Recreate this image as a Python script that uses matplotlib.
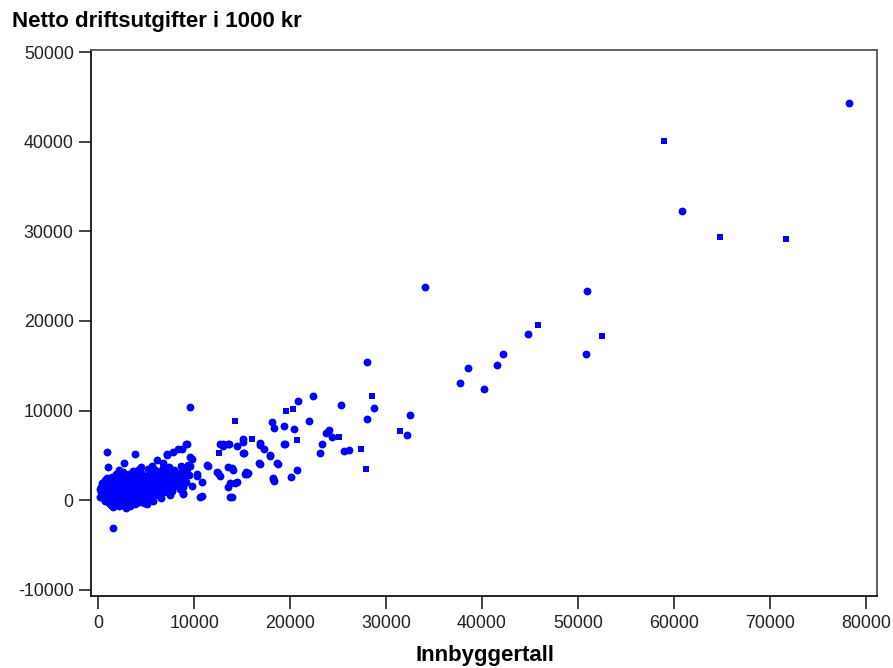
import numpy as np
import matplotlib
matplotlib.use("Agg")
import matplotlib.pyplot as plt

plt.rcParams['font.family'] = ['Liberation Sans', 'DejaVu Sans']
plt.rcParams['axes.unicode_minus'] = False

# innbyggertall / netto driftsutgifter (1000 kr)
dots_x = [78230, 60830, 34060, 50970, 44830, 42150, 41530, 50870, 38580, 37680,
          40240, 28020, 28780, 32470, 28050, 25280, 22360, 20870, 22010, 18160,
          18370, 19380, 20450, 24060, 23720, 24380, 32150, 15140, 19380, 23370,
          23130, 25630, 26110, 20730, 20070, 18710, 18190, 18330, 17920, 16880,
          17290, 16840, 15170, 13050, 13570, 15380, 15660, 13920, 13500, 14270,
          12470, 9580, 1560, 9130, 900, 3850, 2710, 7220, 8290, 6110,
          9580, 9410, 11320, 1070, 4480, 5580, 6720, 8890, 10280, 12360,
          13570, 14090, 15310, 13750, 16800, 18600, 18190, 16880, 19480, 17920,
          8890, 10630, 7500, 13920, 12710, 15140, 9230, 8710, 7840, 7150,
          9750, 13050, 13680, 14440, 15140, 11490, 9580, 5590, 7840, 10280,
          12710, 15480, 10800, 14440, 8890, 7840, 10800, 13750, 8890, 5070,
          6460]
dots_y = [44300, 32230, 23800, 23300, 18550, 16300, 15100, 16300, 14800, 13100,
          12400, 15450, 10300, 9550, 9000, 10650, 11600, 11100, 8850, 8700,
          8000, 8250, 7900, 7800, 7500, 7000, 7250, 6800, 6300, 6300,
          5300, 5450, 5550, 3400, 2600, 4050, 2500, 2100, 4950, 6100,
          5750, 4050, 5250, 6250, 6250, 3100, 3050, 3550, 1450, 1850,
          3050, 10400, -3100, 6300, 5400, 5100, 4150, 5050, 5650, 4450,
          4800, 3900, 3900, 3700, 3650, 3700, 4150, 2600, 2950, 3150,
          3700, 3350, 2950, 1850, 4100, 4100, 2400, 6400, 6300, 5050,
          800, 350, 550, 350, 6300, 5200, 6280, 5720, 5340, 5160,
          4600, 6090, 6280, 6090, 6460, 3850, 3850, 3850, 2740, 2740,
          2740, 2930, 2000, 2000, 1810, 1620, 500, 310, 690, -420,
          500]

squares_x = [58960, 64790, 71670, 45800, 52460, 28540, 20340, 19620, 25100, 31490,
             14270, 16040, 20730, 27400, 27950, 12600]
squares_y = [40100, 29400, 29200, 19500, 18300, 11600, 10200, 10000, 7000, 7700,
             8800, 6850, 6700, 5750, 3500, 5200]

# the dense cluster of small municipalities
cluster_x = [200, 300, 350, 400, 450, 500, 550, 600, 650, 700, 750, 800, 850, 900,
             950, 1000, 250, 700, 900, 600,
             1050, 1100, 1150, 1200, 1250, 1300, 1350, 1400, 1450, 1500, 1550, 1600,
             1650, 1700, 1750, 1800, 1850, 1900, 1950, 2000, 1100, 1300, 1500, 1700,
             1900, 1200, 1400, 1600, 1800, 2000,
             2050, 2100, 2150, 2200, 2250, 2300, 2350, 2400, 2450, 2500, 2550, 2600,
             2650, 2700, 2750, 2800, 2850, 2900, 2950, 3000, 2100, 2300, 2500, 2700,
             2900, 2200, 2400, 2600, 2800, 3000, 2350, 2650, 2950,
             3050, 3100, 3150, 3200, 3250, 3300, 3350, 3400, 3450, 3500, 3550, 3600,
             3650, 3700, 3750, 3800, 3850, 3900, 3950, 4000, 3100, 3300, 3500, 3700,
             3900, 3200, 3400, 3600, 3800,
             4050, 4100, 4150, 4200, 4250, 4300, 4350, 4400, 4450, 4500, 4550, 4600,
             4650, 4700, 4750, 4800, 4850, 4900, 4950, 5000, 4200, 4400, 4600, 4800,
             4300,
             5050, 5150, 5250, 5350, 5450, 5550, 5650, 5750, 5850, 5950, 5100, 5300,
             5500, 5700, 5900, 5200, 5600, 5800,
             6050, 6150, 6250, 6350, 6450, 6550, 6650, 6750, 6850, 6950, 6200, 6400,
             6600, 6800, 6100, 6900,
             7050, 7200, 7350, 7500, 7650, 7800, 7950, 7100, 7400, 7700, 7900,
             8100, 8300, 8500, 8700, 8900, 8200, 8600, 8800,
             9200, 9500, 9800, 9300]
cluster_y = [300, 900, 1500, 600, 1900, 200, 1100, 1700, 500, 1300, 2200, 800, 1600, 300,
             1000, 2000, 1200, -100, 2500, 100,
             500, 1400, -300, 2100, 800, 1700, -600, 1100, 2600, 300, 1500, -800,
             900, 2000, 0, 1300, 2900, 600, 1800, -400, 2400, 400, 2300, 1000,
             -200, 1200, -100, 1600, 700, 1100,
             2200, 300, 1500, -700, 900, 2600, 100, 1800, -500, 1200, 3100, 400,
             1600, -200, 2300, 800, 1900, -900, 1300, 500, 1000, 1400, 2000, 600,
             2700, 3300, -100, 2800, 200, 1700, 700, -600, 2400,
             1000, -300, 2100, 600, 2900, 1400, -700, 1800, 300, 2500, 1100, -100,
             3200, 700, 1600, 2200, -400, 1200, 400, 2600, 1600, 800, 0, 2700,
             1900, 2400, 900, 1400, 500,
             1500, 200, 2900, 900, 1900, -200, 2400, 600, 1300, 3000, 100, 1800,
             700, 2300, 1100, -300, 2700, 1500, 400, 2000, 3400, 1000, 2600, 800,
             1600,
             1200, 2500, 300, 1700, 3100, 900, 2200, -100, 1500, 2800, 600, 2000,
             1300, 400, 3300, 3500, 2600, 1000,
             1900, 700, 3000, 1300, 2300, 200, 1600, 3600, 900, 2100, 2600, 400,
             3200, 1700, 1100, 2800,
             1400, 3000, 2000, 800, 2600, 1500, 3300, 2300, 3700, 1000, 2100,
             1800, 3000, 1200, 2200, 3300, 2600, 3800, 1500,
             2000, 2800, 1600, 3500]

blue = '#0000FF'

fig = plt.figure(figsize=(8.93, 6.68), dpi=100)
ax = fig.add_axes([0.102, 0.108, 0.880, 0.817])

ax.scatter(cluster_x, cluster_y, s=32, color=blue, marker='o', linewidths=0)
ax.scatter(dots_x, dots_y, s=32, color=blue, marker='o', linewidths=0)
ax.scatter(squares_x, squares_y, s=25, color=blue, marker='s', linewidths=0)

ax.set_xlim(-730, 81150)
ax.set_ylim(-10700, 50250)
ax.set_xticks(np.arange(0, 80001, 10000))
ax.set_yticks(np.arange(-10000, 50001, 10000))
ax.tick_params(length=9, width=1.2, labelsize=12.8, colors='#222222')
ax.tick_params(axis='y', pad=3.5)
ax.tick_params(axis='x', pad=5)

for side in ['left', 'bottom']:
    ax.spines[side].set_color('#111111')
    ax.spines[side].set_linewidth(1.3)
for side in ['right', 'top']:
    ax.spines[side].set_color('#555555')
    ax.spines[side].set_linewidth(1.3)

fig.text(12 / 893, 1 - 22 / 668, 'Netto driftsutgifter i 1000 kr',
         fontsize=16, fontweight='bold', ha='left', va='center')
fig.text(485 / 893, 1 - 655 / 668, 'Innbyggertall',
         fontsize=16, fontweight='bold', ha='center', va='center')

fig.savefig('out.png', dpi=100)
